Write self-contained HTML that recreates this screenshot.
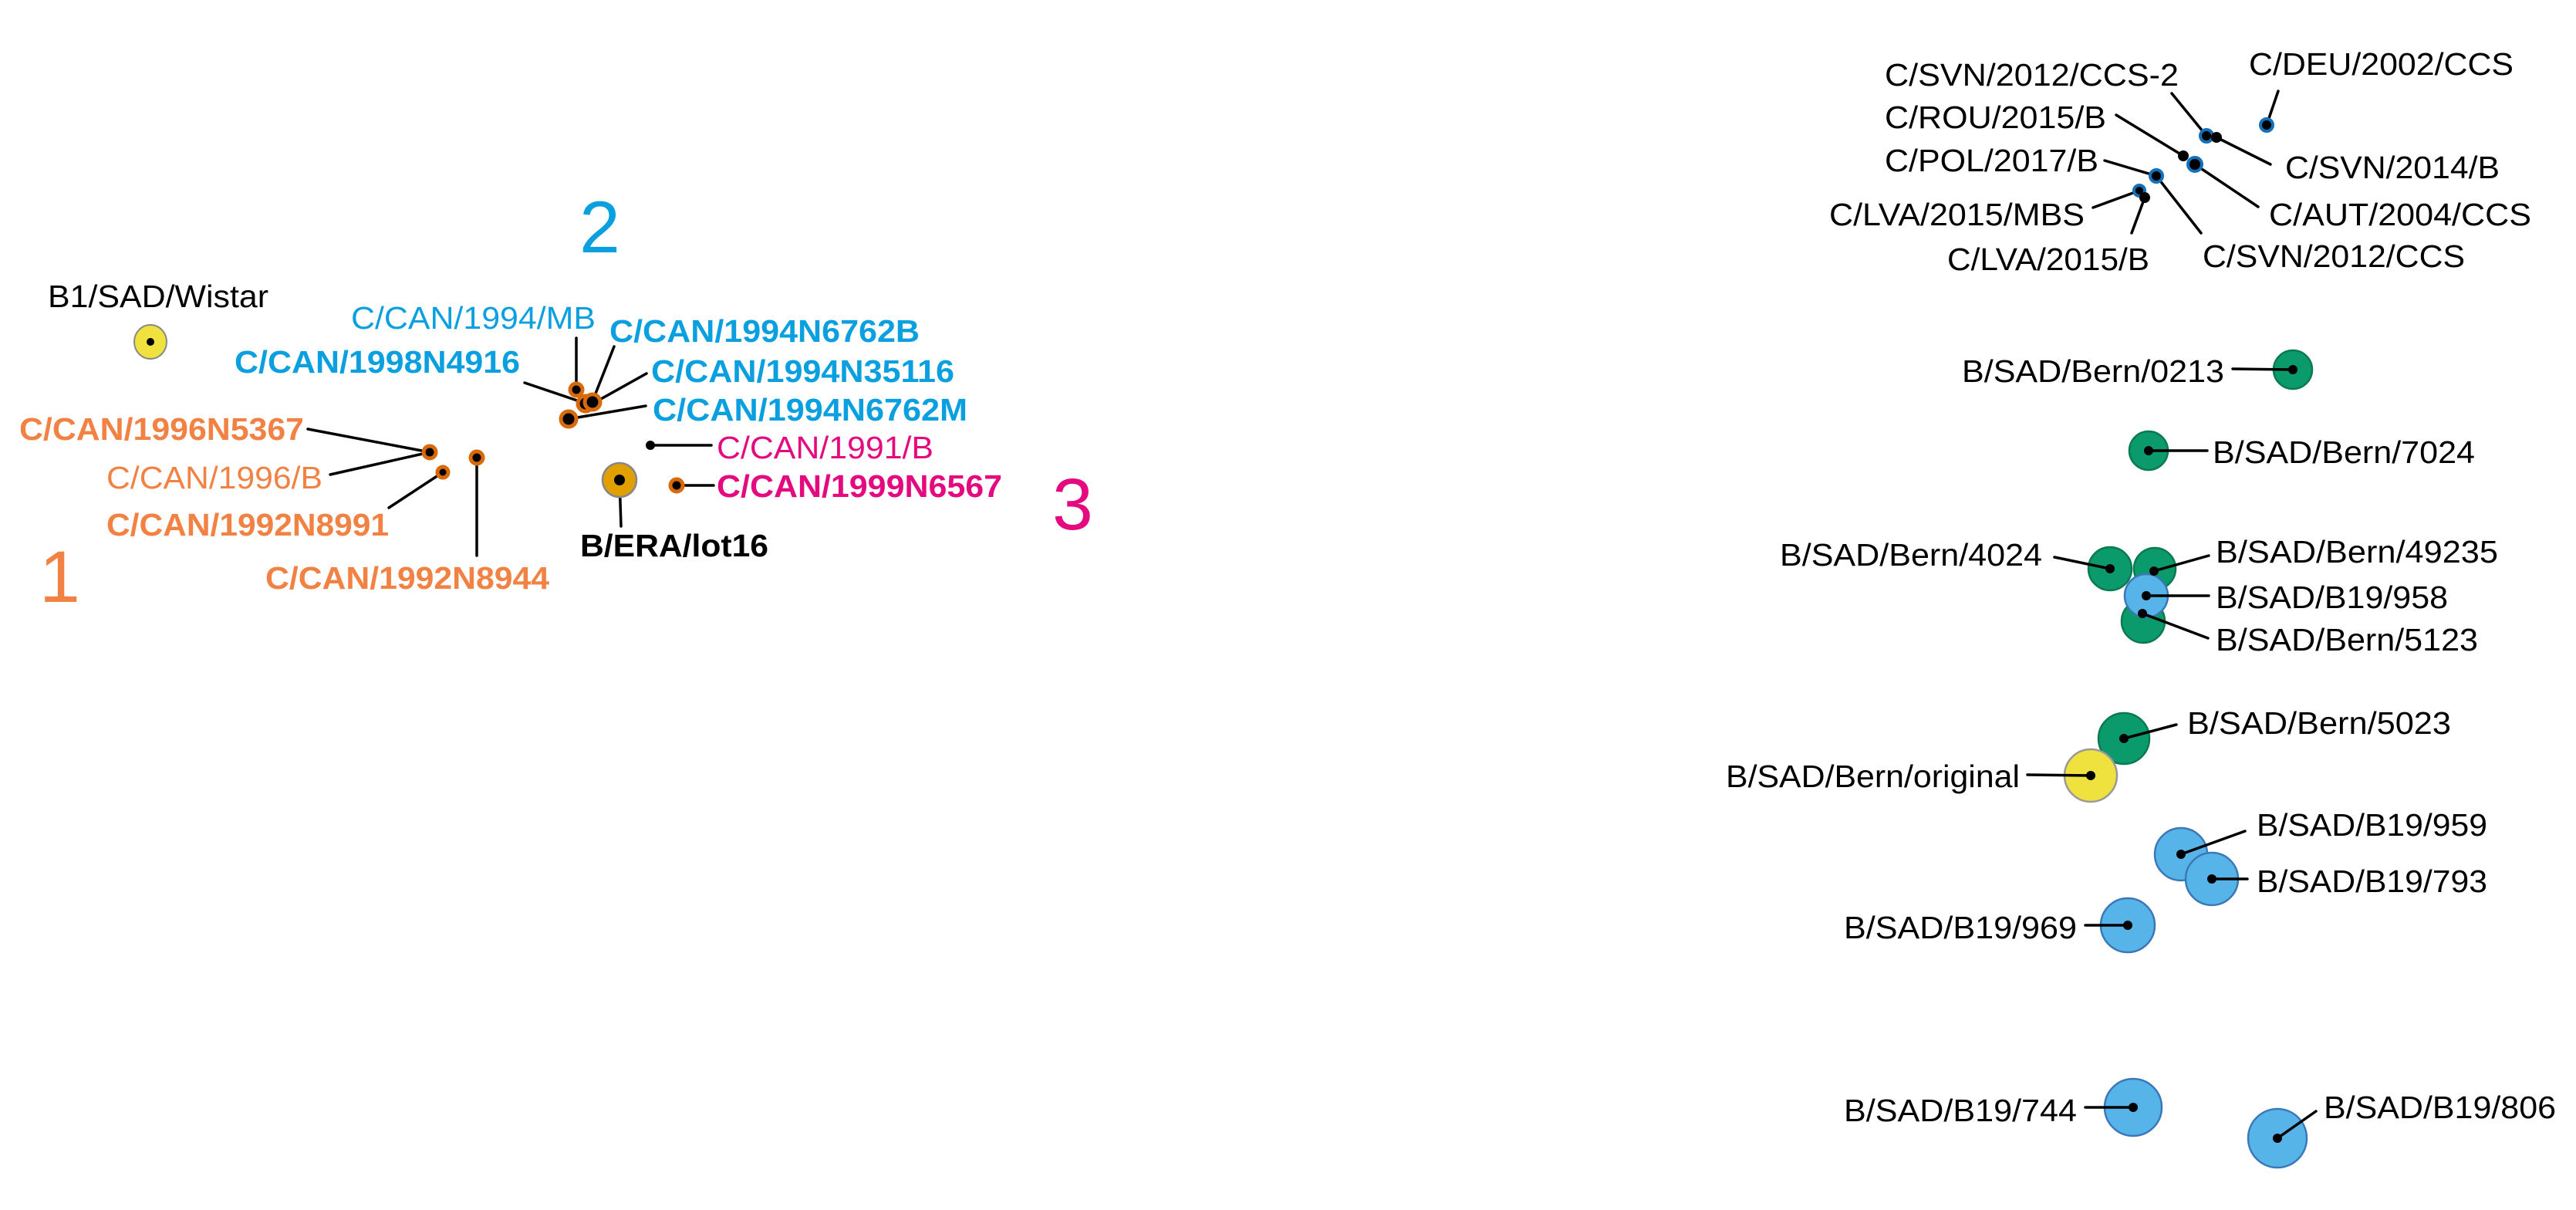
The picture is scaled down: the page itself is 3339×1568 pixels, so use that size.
<!DOCTYPE html>
<html><head><meta charset="utf-8"><style>html,body{margin:0;padding:0;background:#fff}svg{display:block}</style></head>
<body>
<svg width="3339" height="1568" viewBox="0 0 3339 1568" xmlns="http://www.w3.org/2000/svg" font-family="Liberation Sans, Arial, sans-serif">
<rect width="3339" height="1568" fill="#fff"/>
<g stroke="#000" stroke-width="3.5" fill="none" stroke-linecap="round">
<!-- left connectors -->
<line x1="747" y1="438" x2="747" y2="505"/>
<line x1="796" y1="449" x2="768" y2="520"/>
<line x1="838" y1="484" x2="770" y2="522"/>
<line x1="680" y1="496" x2="757" y2="522"/>
<line x1="837" y1="526" x2="737" y2="543"/>
<line x1="399" y1="556" x2="557" y2="586"/>
<line x1="428" y1="615" x2="557" y2="586"/>
<line x1="504" y1="658" x2="574" y2="612"/>
<line x1="618" y1="593" x2="618" y2="720"/>
<line x1="843" y1="577" x2="922" y2="577"/>
<line x1="803" y1="622" x2="805" y2="682"/>
<line x1="877" y1="629" x2="925" y2="629"/>
<!-- top right connectors -->
<line x1="2953" y1="118" x2="2938" y2="162"/>
<line x1="2815" y1="121" x2="2860" y2="176"/>
<line x1="2873" y1="178" x2="2943" y2="213"/>
<line x1="2743" y1="149" x2="2830" y2="202"/>
<line x1="2845" y1="213" x2="2927" y2="268"/>
<line x1="2728" y1="208" x2="2795" y2="228"/>
<line x1="2795" y1="228" x2="2853" y2="302"/>
<line x1="2713" y1="269" x2="2773" y2="247"/>
<line x1="2763" y1="302" x2="2780" y2="256"/>
</g>
<!-- left nodes -->
<ellipse cx="195" cy="443" rx="21" ry="22" fill="#efe23e" stroke="#888" stroke-width="2"/>
<circle cx="195" cy="443" r="5" fill="#000"/>
<g fill="#000" stroke="#d86a0a" stroke-width="5">
<circle cx="747" cy="505" r="8"/>
<circle cx="759" cy="523" r="10"/>
<circle cx="768" cy="521" r="10"/>
<circle cx="737" cy="543" r="10"/>
<circle cx="557" cy="586" r="8"/>
<circle cx="574" cy="612" r="7"/>
<circle cx="618" cy="593" r="8"/>
<circle cx="877" cy="629" r="8"/>
</g>
<circle cx="843" cy="577" r="6" fill="#000"/>
<circle cx="803" cy="622" r="22" fill="#e2a000" stroke="#888" stroke-width="2.5"/>
<circle cx="803" cy="622" r="7" fill="#000"/>
<!-- top right nodes -->
<g fill="#000" stroke="#1470b8" stroke-width="4">
<circle cx="2938" cy="162" r="8"/>
<circle cx="2860" cy="176" r="8"/>
<circle cx="2845" cy="213" r="9"/>
<circle cx="2795" cy="228" r="8"/>
<circle cx="2773" cy="247" r="7"/>
</g>
<g fill="#000"><circle cx="2873" cy="178" r="7"/><circle cx="2830" cy="202" r="7"/><circle cx="2780" cy="256" r="7"/></g>
<!-- right big nodes -->
<g stroke-width="2.5">
<circle cx="2972" cy="479" r="25" fill="#0a9a6c" stroke="#0c7a50"/>
<circle cx="2785" cy="584" r="25" fill="#0a9a6c" stroke="#0c7a50"/>
<circle cx="2735" cy="737" r="28" fill="#0a9a6c" stroke="#0c7a50"/>
<circle cx="2793" cy="737" r="27" fill="#0a9a6c" stroke="#0c7a50"/>
<circle cx="2778" cy="805" r="28" fill="#0a9a6c" stroke="#0c7a50"/>
<circle cx="2782" cy="772" r="28" fill="#56b4e9" stroke="#3a78b8"/>
<circle cx="2753" cy="957" r="33" fill="#0a9a6c" stroke="#0c7a50"/>
<circle cx="2710" cy="1005" r="34" fill="#efe23e" stroke="#999"/>
<circle cx="2827" cy="1107" r="34" fill="#56b4e9" stroke="#3a78b8"/>
<circle cx="2867" cy="1139" r="34" fill="#56b4e9" stroke="#3a78b8"/>
<circle cx="2758" cy="1199" r="35" fill="#56b4e9" stroke="#3a78b8"/>
<circle cx="2765" cy="1435" r="37" fill="#56b4e9" stroke="#3a78b8"/>
<circle cx="2952" cy="1475" r="38" fill="#56b4e9" stroke="#3a78b8"/>
</g>
<g stroke="#000" stroke-width="3.5" stroke-linecap="round">
<line x1="2894" y1="478" x2="2972" y2="479"/>
<line x1="2785" y1="584" x2="2861" y2="584"/>
<line x1="2663" y1="722" x2="2735" y2="737"/>
<line x1="2863" y1="720" x2="2792" y2="740"/>
<line x1="2782" y1="772" x2="2863" y2="772"/>
<line x1="2862" y1="827" x2="2777" y2="795"/>
<line x1="2821" y1="939" x2="2753" y2="957"/>
<line x1="2628" y1="1004" x2="2710" y2="1005"/>
<line x1="2910" y1="1077" x2="2827" y2="1107"/>
<line x1="2913" y1="1139" x2="2867" y2="1139"/>
<line x1="2703" y1="1199" x2="2758" y2="1199"/>
<line x1="2703" y1="1435" x2="2765" y2="1435"/>
<line x1="3002" y1="1440" x2="2952" y2="1475"/>
</g>
<g fill="#000">
<circle cx="2972" cy="479" r="6"/><circle cx="2785" cy="584" r="6"/><circle cx="2735" cy="737" r="6"/><circle cx="2792" cy="740" r="6"/><circle cx="2782" cy="772" r="6"/><circle cx="2777" cy="795" r="6"/><circle cx="2753" cy="957" r="6"/><circle cx="2710" cy="1005" r="6"/><circle cx="2827" cy="1107" r="6"/><circle cx="2867" cy="1139" r="6"/><circle cx="2758" cy="1199" r="6"/><circle cx="2765" cy="1435" r="6"/><circle cx="2952" cy="1475" r="6"/>
</g>
<!-- big digits -->
<text x="751" y="327" font-size="95" fill="#0aa0e0">2</text>
<text x="1364" y="686" font-size="95" fill="#e4097f">3</text>
<text x="51" y="780" font-size="95" fill="#f28244">1</text>
<!-- left labels -->
<g font-size="41" lengthAdjust="spacingAndGlyphs">
<text x="62" y="398" fill="#000" textLength="286" lengthAdjust="spacingAndGlyphs">B1/SAD/Wistar</text>
<text x="455" y="426" fill="#0aa0e0" textLength="317" lengthAdjust="spacingAndGlyphs">C/CAN/1994/MB</text>
<text x="790" y="443" fill="#0aa0e0" font-weight="bold" textLength="402" lengthAdjust="spacingAndGlyphs">C/CAN/1994N6762B</text>
<text x="304" y="483" fill="#0aa0e0" font-weight="bold" textLength="370" lengthAdjust="spacingAndGlyphs">C/CAN/1998N4916</text>
<text x="844" y="495" fill="#0aa0e0" font-weight="bold" textLength="393" lengthAdjust="spacingAndGlyphs">C/CAN/1994N35116</text>
<text x="846" y="545" fill="#0aa0e0" font-weight="bold" textLength="408" lengthAdjust="spacingAndGlyphs">C/CAN/1994N6762M</text>
<text x="25" y="570" fill="#f28244" font-weight="bold" textLength="369" lengthAdjust="spacingAndGlyphs">C/CAN/1996N5367</text>
<text x="929" y="594" fill="#e4097f" textLength="281" lengthAdjust="spacingAndGlyphs">C/CAN/1991/B</text>
<text x="138" y="633" fill="#f28244" textLength="280" lengthAdjust="spacingAndGlyphs">C/CAN/1996/B</text>
<text x="929" y="644" fill="#e4097f" font-weight="bold" textLength="370" lengthAdjust="spacingAndGlyphs">C/CAN/1999N6567</text>
<text x="138" y="694" fill="#f28244" font-weight="bold" textLength="366" lengthAdjust="spacingAndGlyphs">C/CAN/1992N8991</text>
<text x="752" y="721" fill="#000" font-weight="bold" textLength="244" lengthAdjust="spacingAndGlyphs">B/ERA/lot16</text>
<text x="344" y="763" fill="#f28244" font-weight="bold" textLength="368" lengthAdjust="spacingAndGlyphs">C/CAN/1992N8944</text>
</g>
<!-- right labels -->
<g font-size="41" fill="#000">
<text x="2443" y="111" textLength="381" lengthAdjust="spacingAndGlyphs">C/SVN/2012/CCS-2</text>
<text x="2915" y="97" textLength="343" lengthAdjust="spacingAndGlyphs">C/DEU/2002/CCS</text>
<text x="2443" y="166" textLength="287" lengthAdjust="spacingAndGlyphs">C/ROU/2015/B</text>
<text x="2443" y="222" textLength="277" lengthAdjust="spacingAndGlyphs">C/POL/2017/B</text>
<text x="2962" y="231" textLength="278" lengthAdjust="spacingAndGlyphs">C/SVN/2014/B</text>
<text x="2371" y="292" textLength="331" lengthAdjust="spacingAndGlyphs">C/LVA/2015/MBS</text>
<text x="2941" y="292" textLength="340" lengthAdjust="spacingAndGlyphs">C/AUT/2004/CCS</text>
<text x="2524" y="350" textLength="262" lengthAdjust="spacingAndGlyphs">C/LVA/2015/B</text>
<text x="2855" y="346" textLength="340" lengthAdjust="spacingAndGlyphs">C/SVN/2012/CCS</text>
<text x="2543" y="495" textLength="340" lengthAdjust="spacingAndGlyphs">B/SAD/Bern/0213</text>
<text x="2868" y="600" textLength="340" lengthAdjust="spacingAndGlyphs">B/SAD/Bern/7024</text>
<text x="2307" y="733" textLength="340" lengthAdjust="spacingAndGlyphs">B/SAD/Bern/4024</text>
<text x="2872" y="729" textLength="366" lengthAdjust="spacingAndGlyphs">B/SAD/Bern/49235</text>
<text x="2872" y="788" textLength="301" lengthAdjust="spacingAndGlyphs">B/SAD/B19/958</text>
<text x="2872" y="843" textLength="340" lengthAdjust="spacingAndGlyphs">B/SAD/Bern/5123</text>
<text x="2835" y="951" textLength="342" lengthAdjust="spacingAndGlyphs">B/SAD/Bern/5023</text>
<text x="2237" y="1020" textLength="381" lengthAdjust="spacingAndGlyphs">B/SAD/Bern/original</text>
<text x="2925" y="1083" textLength="299" lengthAdjust="spacingAndGlyphs">B/SAD/B19/959</text>
<text x="2925" y="1156" textLength="299" lengthAdjust="spacingAndGlyphs">B/SAD/B19/793</text>
<text x="2390" y="1216" textLength="302" lengthAdjust="spacingAndGlyphs">B/SAD/B19/969</text>
<text x="2390" y="1453" textLength="302" lengthAdjust="spacingAndGlyphs">B/SAD/B19/744</text>
<text x="3012" y="1449" textLength="301" lengthAdjust="spacingAndGlyphs">B/SAD/B19/806</text>
</g>
</svg>
</body></html>
